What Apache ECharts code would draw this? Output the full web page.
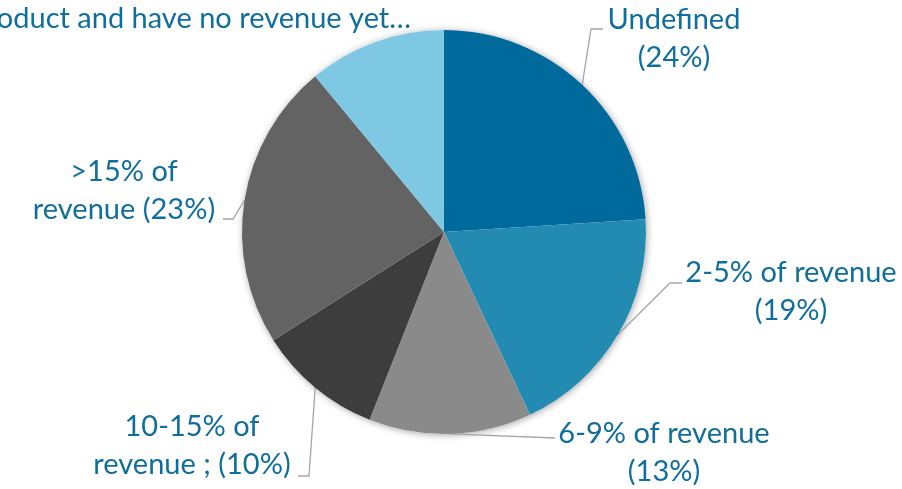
<!DOCTYPE html>
<html>
<head>
<meta charset="utf-8">
<script src="https://cdn.jsdelivr.net/npm/echarts@6/dist/echarts.min.js"></script>
<style>
html,body{margin:0;padding:0;background:#fff;}
#chart{width:902px;height:489px;}
</style>
</head>
<body>
<div id="chart"></div>
<script>
// ---- data ----
const categories = [
  'Undefined',
  '2-5% of revenue',
  '6-9% of revenue',
  '10-15% of revenue ;',
  '>15% of revenue',
  'We are still developing the product and have no revenue yet...'
];
const shares = [24, 19, 13, 10, 23, 11];
const labelLines1 = ['Undefined', '2-5% of revenue', '6-9% of revenue', '10-15% of', '>15% of', 'We are still developing the product and have no revenue yet\u2026'];
const labelLines2 = ['', '', '', 'revenue ;', 'revenue', ''];
const showPercent = [true, true, true, true, true, false];

// ---- styling / layout ----
const colors = ['#006a9c', '#238bb1', '#8a8a8a', '#3d3d3d', '#636363', '#7fc8e3'];
const labelPos = [
  {x: 674, y: 39, align: 'center'},
  {x: 791, y: 292, align: 'center'},
  {x: 664, y: 453, align: 'center'},
  {x: 192, y: 446, align: 'center'},
  {x: 124, y: 191, align: 'center'},
  {x: 411, y: 19, align: 'right'}
];
const leaderEnds = [
  [[591, 29], [603, 29]],
  [[670, 283], [682, 283]],
  [[555, 438]],
  [[309, 476], [298, 476]],
  [[233, 219], [223, 219]],
  null
];

function labelText(i) {
  const pct = showPercent[i] ? '(' + shares[i] + '%)' : '';
  if (!showPercent[i]) return labelLines1[i];
  if (labelLines2[i]) return labelLines1[i] + '\n' + labelLines2[i] + ' ' + pct;
  return labelLines1[i] + '\n' + pct;
}

const chart = echarts.init(document.getElementById('chart'), null, {renderer: 'canvas'});
const CENTER = ['49.22%', '47.44%'];
const RADIUS = 202;
const total = shares.reduce((a, b) => a + b, 0);

chart.setOption({
  animation: false,
  backgroundColor: '#ffffff',
  series: [
    {
      type: 'pie',
      silent: true,
      center: CENTER,
      radius: RADIUS,
      z: 1,
      label: {show: false},
      labelLine: {show: false},
      itemStyle: {color: '#ffffff', shadowBlur: 7, shadowColor: 'rgba(0,0,0,0.35)', shadowOffsetX: 1, shadowOffsetY: 1},
      data: [{value: total, name: 'bg'}]
    },
    {
      type: 'pie',
      center: CENTER,
      radius: RADIUS,
      z: 2,
      startAngle: 90,
      clockwise: true,
      avoidLabelOverlap: false,
      data: categories.map((c, i) => ({value: shares[i], name: c, itemStyle: {color: colors[i]}})),
      itemStyle: {borderWidth: 0},
      label: {
        show: true,
        position: 'outside',
        formatter: p => labelText(p.dataIndex),
        color: '#0f6e9e',
        fontFamily: 'Lato',
        fontSize: 29,
        lineHeight: 38
      },
      labelLine: {
        show: true,
        length: 10,
        length2: 10,
        smooth: false,
        lineStyle: {color: '#a6a6a6', width: 1.3}
      },
      labelLayout: function (params) {
        const i = params.dataIndex;
        const lp = labelPos[i];
        const out = {x: lp.x, y: lp.y, align: lp.align, verticalAlign: 'middle', hideOverlap: false, moveOverlap: false};
        const pts = params.labelLinePoints;
        if (leaderEnds[i] && pts && pts.length) {
          out.labelLinePoints = [pts[0]].concat(leaderEnds[i]);
        } else if (!leaderEnds[i]) {
          out.labelLinePoints = [[0, 0], [0, 0]];
        }
        return out;
      }
    }
  ]
});
</script>
</body>
</html>
